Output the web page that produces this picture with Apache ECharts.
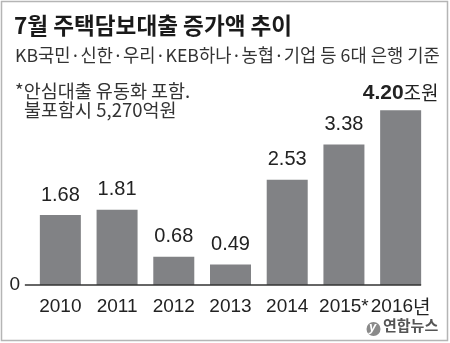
<!DOCTYPE html>
<html><head><meta charset="utf-8">
<script src="https://cdn.jsdelivr.net/npm/echarts@6/dist/echarts.min.js"></script>
<style>html,body{margin:0;padding:0;background:#fff}#c{width:450px;height:343px}</style>
</head><body><div id="c"></div>
<script>
const categories = ['2010','2011','2012','2013','2014','2015*','2016년'];
const values = [1.68, 1.81, 0.68, 0.49, 2.53, 3.38, 4.20];
const valueLabels = ['1.68','1.81','0.68','0.49','2.53','3.38','4.20'];
const yTicks = [0];
const titleText = '7월 주택담보대출 증가액 추이';
const subtitleText = 'KB국민·신한·우리·KEB하나·농협·기업 등 6대 은행 기준';
const noteLines = ['*안심대출 유동화 포함.', '불포함시 5,270억원'];
const unitText = '조원';
const sourceText = '연합뉴스';

const KR = '"Noto Sans CJK KR", "Noto Sans", sans-serif';
const NUM = '"Liberation Sans", Arial, sans-serif';
const chart = echarts.init(document.getElementById('c'), null, {renderer:'canvas'});
const last = values.length - 1;
chart.setOption({
  backgroundColor:'#fff',
  animation:false,
  grid:{left:32, right:21, top:77, bottom:58},
  xAxis:{type:'category', data:categories, axisLine:{show:false}, axisTick:{show:false},
    axisLabel:{interval:0, color:'#222', fontSize:19, fontFamily:NUM, margin:12,
      formatter:v=>v.replace('년','{k|년}'),
      rich:{k:{fontFamily:KR, fontSize:19, color:'#222'}}}},
  yAxis:{type:'value', min:0, max:5, interval:5, splitLine:{show:false}, axisLine:{show:false}, axisTick:{show:false},
    axisLabel:{color:'#222', fontSize:19, fontFamily:NUM, margin:12, formatter:v=> yTicks.includes(v)? String(v):''}},
  series:[{type:'bar', barWidth:41, itemStyle:{color:'#818285'},
    data: values.map((v,i)=>({value:v, label: i===last ? {
      formatter:'{a|'+valueLabels[i]+'}{b|'+unitText+'}', distance:7,
      rich:{a:{fontFamily:NUM, fontWeight:'bold', fontSize:21, color:'#222'}, b:{fontFamily:KR, fontSize:19, color:'#222'}}
    } : {}})),
    label:{show:true, position:'top', distance:10, color:'#222', fontSize:20, fontFamily:NUM,
      formatter:p=>valueLabels[p.dataIndex]}
  }]
});
const y0 = chart.convertToPixel({yAxisIndex:0}, 0);
const xa = chart.convertToPixel({xAxisIndex:0}, categories[0]);
const xb = chart.convertToPixel({xAxisIndex:0}, categories[last]);
chart.setOption({graphic:[
  {type:'rect', shape:{x:1.5,y:1.5,width:446,height:339}, style:{fill:'none', stroke:'#b5b5b5', lineWidth:1.5}, silent:true},
  {type:'line', shape:{x1:xa-35.5, y1:y0, x2:xb+20.5, y2:y0}, style:{stroke:'#333', lineWidth:1.5}, z:10},
  {type:'text', left:14, top:14, style:{text:titleText, font:'bold 22.6px '+KR, fill:'#1a1a1a'}},
  {type:'text', left:15, top:46, style:{text:subtitleText, font:'17.7px '+KR, fill:'#333'}},
  {type:'text', left:15, top:82, style:{text:noteLines[0], font:'18.5px '+KR, fill:'#333'}},
  {type:'text', left:24, top:101, style:{text:noteLines[1], font:'18.5px '+KR, fill:'#333'}},
  {type:'text', left:383, top:318, style:{text:sourceText, font:'bold 15px '+KR, fill:'#555'}},
  {type:'circle', shape:{cx:373.5, cy:329, r:7}, style:{fill:'#8a8a8a'}},
  {type:'text', left:369, top:321, style:{text:'y', font:'italic bold 13px '+NUM, fill:'#fff'}}
]});
</script></body></html>
